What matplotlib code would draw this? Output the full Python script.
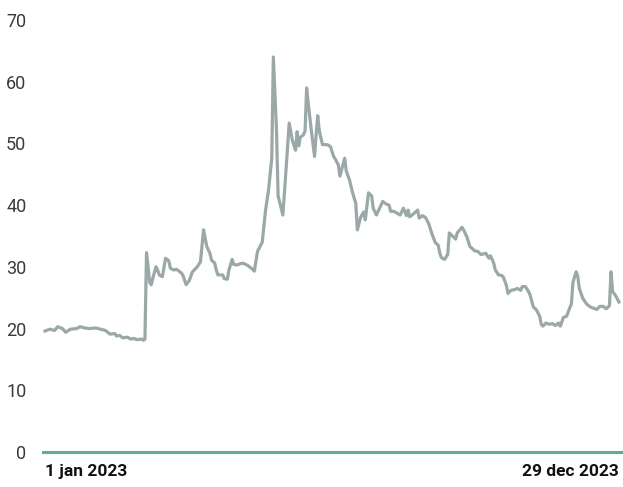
import numpy as np
import pandas as pd
import matplotlib
matplotlib.use("Agg")
import matplotlib.pyplot as plt

# ─────────────────────────────────────────────
# Data
# ─────────────────────────────────────────────
start = pd.Timestamp("2023-01-01")

day_offsets = [
    0, 3, 6, 8, 11, 13, 16, 20, 22, 25, 28, 32, 35, 38, 41, 44, 45, 47, 49, 52,
    54, 56, 58, 61, 62, 63, 64, 66, 67, 68, 70, 71, 72, 74, 76, 78, 79, 81, 83, 86,
    87, 89, 91, 93, 96, 98, 100, 102, 104, 105, 107, 108, 109, 112, 113, 115, 116, 118, 119, 121,
    123, 125, 128, 131, 132, 134, 136, 137, 138, 139, 141, 142, 143, 144, 146, 147, 148, 150, 151, 153,
    154, 156, 158, 159, 160, 161, 163, 164, 165, 166, 168, 170, 171, 172, 173, 175, 178, 180, 182, 183,
    185, 186, 189, 190, 192, 194, 196, 197, 199, 201, 202, 204, 206, 207, 209, 211, 213, 215, 217, 218,
    220, 222, 224, 226, 228, 229, 230, 232, 235, 236, 238, 240, 242, 244, 246, 248, 249, 250, 252, 254,
    255, 257, 259, 260, 263, 264, 266, 268, 271, 273, 275, 278, 279, 280, 281, 283, 284, 286, 288, 289,
    291, 292, 294, 296, 298, 300, 301, 303, 305, 306, 308, 310, 312, 313, 314, 316, 318, 320, 322, 324,
    325, 327, 329, 330, 332, 333, 335, 336, 337, 339, 341, 342, 344, 346, 348, 350, 352, 354, 356, 357,
    358, 360, 362,
]

values = [
    19.6, 19.9, 19.7, 20.3, 20.0, 19.4, 19.9, 20.0, 20.3, 20.1, 20.0, 20.1, 19.9, 19.7, 19.1, 19.2, 18.8, 18.9, 18.5, 18.6,
    18.3, 18.4, 18.2, 18.3, 18.1, 18.3, 32.3, 27.5, 27.1, 28.2, 30.0, 29.5, 28.7, 28.4, 31.4, 31.0, 29.8, 29.5, 29.6, 29.0,
    28.6, 27.1, 27.8, 29.2, 30.0, 30.8, 36.0, 33.3, 32.2, 31.1, 30.6, 29.5, 28.7, 28.7, 28.1, 28.0, 29.5, 31.2, 30.4, 30.3,
    30.5, 30.6, 30.2, 29.6, 29.3, 32.5, 33.5, 34.0, 36.5, 39.0, 42.5, 45.0, 47.6, 64.0, 52.0, 41.5, 40.5, 38.4, 42.0, 49.5,
    53.3, 50.5, 48.9, 51.9, 49.6, 51.0, 51.4, 52.0, 59.0, 56.5, 52.0, 47.9, 51.5, 54.5, 52.0, 49.8, 49.8, 49.5, 47.9, 47.5,
    46.5, 44.7, 47.6, 45.5, 44.1, 42.0, 40.3, 36.0, 38.0, 38.9, 37.6, 42.0, 41.5, 39.5, 38.4, 39.5, 40.6, 40.2, 40.0, 39.0,
    39.0, 38.7, 38.4, 39.5, 38.3, 39.2, 38.1, 38.5, 39.2, 37.9, 38.3, 38.0, 37.0, 35.4, 34.0, 33.5, 32.2, 31.5, 31.2, 32.0,
    35.5, 35.0, 34.5, 35.5, 36.4, 36.0, 34.9, 33.3, 32.6, 32.5, 32.0, 32.2, 31.8, 31.4, 31.8, 30.6, 29.5, 28.7, 28.6, 28.4,
    27.0, 25.7, 26.2, 26.3, 26.5, 26.2, 26.8, 26.8, 26.0, 25.4, 23.5, 23.0, 22.0, 20.7, 20.4, 20.9, 20.7, 20.8, 20.5, 20.9,
    20.4, 21.8, 22.0, 22.7, 24.0, 27.5, 29.2, 28.5, 26.5, 25.0, 24.2, 23.9, 23.5, 23.3, 23.1, 23.6, 23.6, 23.2, 23.7, 29.2,
    26.0, 25.3, 24.3,
]

y_ticks = [0, 10, 20, 30, 40, 50, 60, 70]
first_label = "1 jan 2023"
last_label = "29 dec 2023"

dates = start + pd.to_timedelta(day_offsets, unit="D")

# ─────────────────────────────────────────────
# Plot
# ─────────────────────────────────────────────
plt.rcParams["font.family"] = ["Roboto", "DejaVu Sans"]

fig = plt.figure(figsize=(6.23, 4.87), dpi=100)
ax = fig.add_axes([43 / 623, 1 - 452 / 487, 578 / 623, 432 / 487])

ax.plot(dates, values, color="#9aa9a7", lw=2.3, solid_joinstyle="round")
ax.axhline(0, color="#5fae8c", lw=2.2, clip_on=False, zorder=3)

pad = pd.Timedelta(days=1.3)
ax.set_xlim(dates[0] - pad, dates[-1] + pad)
ax.set_ylim(0, 70)
ax.set_yticks(y_ticks)
ax.set_yticklabels([str(t) for t in y_ticks], fontsize=13, color="#3a3a3a",
                   fontweight="normal")
ax.tick_params(axis="y", length=0, pad=12)
ax.set_xticks([])
for s in ax.spines.values():
    s.set_visible(False)

ax.text(dates[0], -1.9, first_label, ha="left", va="top", fontsize=12.5,
        fontweight="bold", color="#111111")
ax.text(dates[-1], -1.9, last_label, ha="right", va="top", fontsize=12.5,
        fontweight="bold", color="#111111")

plt.savefig("out.png", dpi=100)
